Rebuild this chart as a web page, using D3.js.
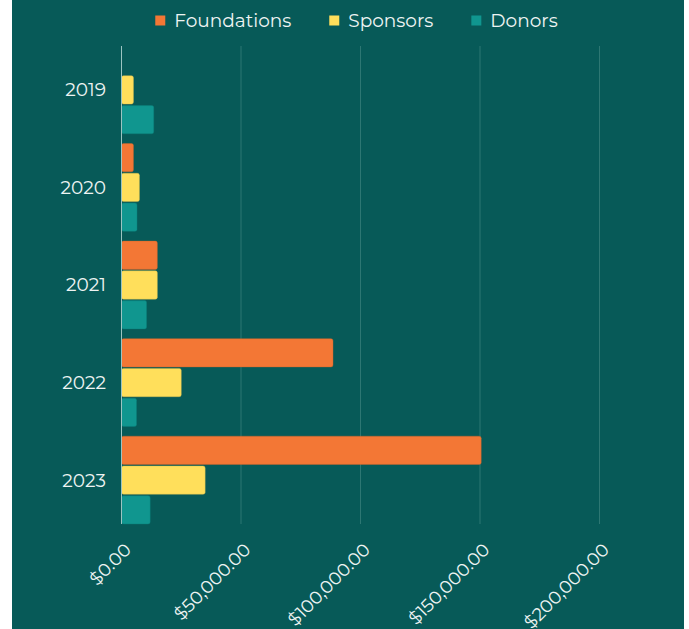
<!DOCTYPE html>
<html>
<head>
<meta charset="utf-8">
<script src="https://cdn.jsdelivr.net/npm/d3@7"></script>
<style>
  html, body { margin: 0; padding: 0; background: #ffffff; }
  svg { display: block; }
  text { font-family: "Montserrat", "Open Sans", sans-serif; }
</style>
</head>
<body>
<svg id="chart" width="689" height="629"></svg>
<script>
const years = ["2019", "2020", "2021", "2022", "2023"];
const seriesNames = ["Foundations", "Sponsors", "Donors"];
const foundations = [0, 5000, 15000, 88500, 150500];
const sponsors = [5000, 7500, 15000, 25000, 35000];
const donors = [13500, 6500, 10500, 6300, 12000];
const xTicks = [0, 50000, 100000, 150000, 200000];
const colors = ["#f37735", "#ffdf5b", "#10968f"];

const seriesValues = [foundations, sponsors, donors];
const rows = years.map((yr, i) => ({
  year: yr,
  values: seriesNames.map((s, j) => ({ key: s, value: seriesValues[j][i], color: colors[j] }))
}));

const W = 689, H = 629;
const svg = d3.select("#chart");
const bg = "#075a58";

svg.append("rect").attr("x", 12).attr("y", 0).attr("width", 672).attr("height", H).attr("fill", bg);

const pLeft = 121.5, pRight = 599.5, pTop = 46, pBottom = 524;

const x = d3.scaleLinear().domain([0, 200000]).range([pLeft, pRight]);
const y = d3.scaleBand().domain(years).range([pTop, pBottom]).paddingInner(0.1).paddingOuter(0);
const y1 = d3.scaleBand().domain(seriesNames).range([0, y.bandwidth()]).paddingInner(0.05).paddingOuter(0);

// grid lines
svg.append("g").selectAll("line").data(xTicks.slice(1)).join("line")
  .attr("x1", d => x(d)).attr("x2", d => x(d))
  .attr("y1", pTop).attr("y2", pBottom)
  .attr("stroke", "#2d7773").attr("stroke-width", 1);

// bars
const groups = svg.append("g").selectAll("g").data(rows).join("g")
  .attr("transform", d => `translate(0,${y(d.year)})`);
groups.selectAll("rect").data(d => d.values.filter(v => v.value > 0)).join("rect")
  .attr("x", x(0))
  .attr("y", d => y1(d.key))
  .attr("width", d => x(d.value) - x(0))
  .attr("height", y1.bandwidth())
  .attr("rx", 2).attr("ry", 2)
  .attr("fill", d => d.color)
  .attr("stroke", d => d3.color(d.color).darker(0.5))
  .attr("stroke-width", 0.6)
  .attr("stroke-opacity", 0.7);

// y axis line
svg.append("line")
  .attr("x1", x(0)).attr("x2", x(0)).attr("y1", pTop).attr("y2", pBottom)
  .attr("stroke", "#9cc4c1").attr("stroke-width", 1);

// y labels
svg.append("g").selectAll("text").data(years).join("text")
  .attr("x", 106)
  .attr("y", d => y(d) + y.bandwidth() / 2)
  .attr("dy", "0.35em")
  .attr("text-anchor", "end")
  .attr("fill", "#eef4f3")
  .attr("font-size", 18.5)
  .text(d => d);

// x tick labels
const fmt = d3.format("$,.2f");
svg.append("g").selectAll("text").data(xTicks).join("text")
  .attr("transform", d => `translate(${x(d) + 2},${542}) rotate(-45)`)
  .attr("text-anchor", "end")
  .attr("dy", "0.7em")
  .attr("fill", "#eef4f3")
  .attr("font-size", 18)
  .text(d => fmt(d));

// legend
const legend = svg.append("g");
const items = legend.selectAll("g").data(seriesNames).join("g");
items.append("rect").attr("width", 10).attr("height", 10).attr("y", 15.5)
  .attr("fill", (d, i) => colors[i]);
items.append("text").attr("x", 19).attr("y", 26.5)
  .attr("fill", "#eef4f3").attr("font-size", 18.5)
  .text(d => d);
let widths = [];
items.each(function () { widths.push(this.getBBox().width); });
const gap = 38;
const total = d3.sum(widths) + gap * (widths.length - 1);
let cx = 356.5 - total / 2;
items.each(function (d, i) {
  d3.select(this).attr("transform", `translate(${cx},0)`);
  cx += widths[i] + gap;
});
</script>
</body>
</html>
